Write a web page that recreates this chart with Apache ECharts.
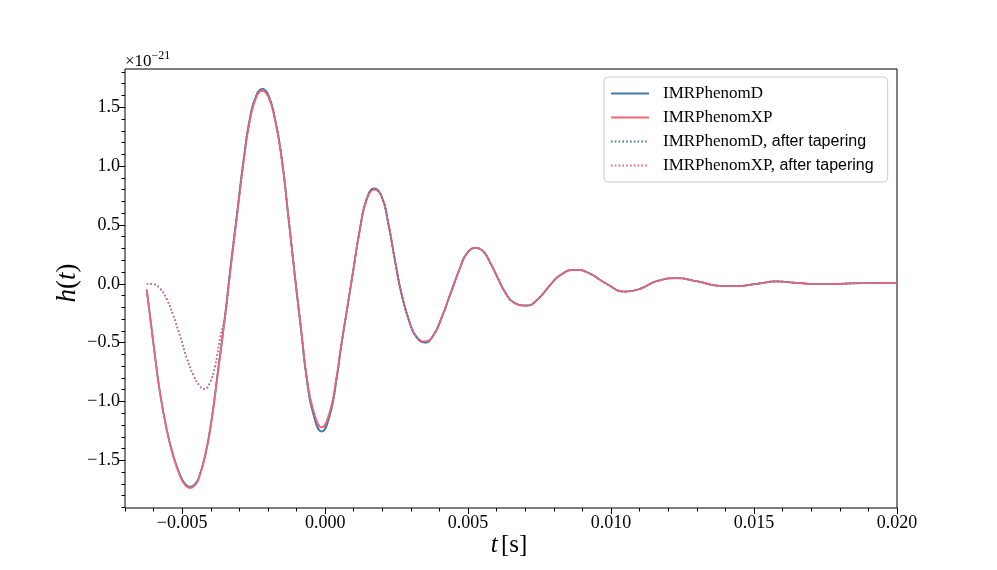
<!DOCTYPE html>
<html>
<head>
<meta charset="utf-8">
<script src="https://cdn.jsdelivr.net/npm/echarts@6/dist/echarts.min.js"></script>
<style>
html,body{margin:0;padding:0;background:#fff;}
#c{width:997px;height:570px;}
</style>
</head>
<body>
<div id="c"></div>
<script>
// time in seconds, strain in units of 1e-21
const tMain = [-0.00624,-0.00601,-0.00578,-0.00554,-0.00531,-0.00508,-0.00490,-0.00473,-0.00455,-0.00444,-0.00420,-0.00397,-0.00374,-0.00350,-0.00333,-0.00309,-0.00286,-0.00263,-0.00240,-0.00220,-0.00199,-0.00176,-0.00152,-0.00129,-0.00106,-0.00082,-0.00065,-0.00042,-0.00012,0.00017,0.00040,0.00055,0.00075,0.00098,0.00122,0.00145,0.00172,0.00198,0.00221,0.00244,0.00267,0.00297,0.00320,0.00349,0.00378,0.00407,0.00436,0.00471,0.00495,0.00526,0.00553,0.00582,0.00605,0.00629,0.00658,0.00705,0.00745,0.00786,0.00821,0.00873,0.00920,0.00984,0.01048,0.01101,0.01159,0.01229,0.01299,0.01380,0.01439,0.01509,0.01579,0.01649,0.01730,0.01800,0.01882,0.02000];
const hD = [-0.05,-0.50,-0.92,-1.24,-1.46,-1.62,-1.70,-1.725,-1.70,-1.66,-1.46,-1.15,-0.72,-0.27,0.10,0.58,1.04,1.41,1.605,1.656,1.605,1.41,1.07,0.58,0.07,-0.44,-0.80,-1.10,-1.255,-1.11,-0.81,-0.55,-0.24,0.11,0.47,0.72,0.81,0.74,0.51,0.20,-0.085,-0.34,-0.455,-0.50,-0.44,-0.29,-0.10,0.13,0.256,0.305,0.275,0.156,0.043,-0.07,-0.157,-0.185,-0.128,-0.014,0.071,0.119,0.094,0.0,-0.066,-0.043,0.022,0.048,0.022,-0.017,-0.02,0.0,0.02,0.008,-0.003,0.0,0.005,0.005];
const hXP = [-0.05,-0.50,-0.92,-1.24,-1.47,-1.63,-1.71,-1.735,-1.71,-1.67,-1.47,-1.16,-0.74,-0.28,0.08,0.56,1.02,1.39,1.59,1.64,1.59,1.40,1.06,0.58,0.07,-0.43,-0.78,-1.07,-1.22,-1.08,-0.79,-0.54,-0.24,0.11,0.47,0.71,0.80,0.74,0.51,0.20,-0.085,-0.34,-0.45,-0.49,-0.44,-0.29,-0.10,0.13,0.255,0.303,0.275,0.156,0.043,-0.07,-0.157,-0.185,-0.128,-0.014,0.071,0.119,0.094,0.0,-0.066,-0.043,0.022,0.048,0.022,-0.017,-0.02,0.0,0.02,0.008,-0.003,0.0,0.005,0.005];
// start of the tapered waveforms (after this they follow the untapered ones)
const tTaper = [-0.00624,-0.00601,-0.00578,-0.00554,-0.00531,-0.00508,-0.00484,-0.00460,-0.00438,-0.00423,-0.00403,-0.00385,-0.00368,-0.00350];
const hDTaper = [0.0,-0.003,-0.04,-0.13,-0.27,-0.44,-0.63,-0.78,-0.87,-0.895,-0.84,-0.70,-0.47,-0.27];
const hXPTaper = [0.0,-0.003,-0.04,-0.13,-0.27,-0.44,-0.63,-0.78,-0.87,-0.895,-0.84,-0.70,-0.47,-0.28];

const xTicks = [-0.005,0.000,0.005,0.010,0.015,0.020];
const yTicks = [-1.5,-1.0,-0.5,0.0,0.5,1.0,1.5];
const xMinor = []; for (let i=-7;i<=20;i++) xMinor.push(i/1000);
const yMinor = []; for (let i=-19;i<=18;i++) yMinor.push(i/10);

const names = ['IMRPhenomD','IMRPhenomXP','IMRPhenomD, after tapering','IMRPhenomXP, after tapering'];
const BLUE = '#4477AA', RED = '#EE6677';

function zip(t,h){ return t.map((v,i)=>[v,h[i]]); }
function tapered(hT, hM){
  const last = tTaper[tTaper.length-1];
  const out = zip(tTaper,hT);
  tMain.forEach((t,i)=>{ if (t>last) out.push([t,hM[i]]); });
  return out;
}
const minus = s => s.replace('-', '\u2212');

const SERIF = '"Liberation Serif", "DejaVu Serif", serif';
const SANS = '"Liberation Sans", "DejaVu Sans", sans-serif';

const chart = echarts.init(document.getElementById('c'), null, {renderer:'canvas'});
const xmin=-0.007, xmax=0.020, ymin=-1.905, ymax=1.825;
const axisCommon = {
  splitLine:{show:false},
  axisLine:{show:false,onZero:false}
};
chart.setOption({
  animation:false,
  backgroundColor:'#fff',
  grid:{left:125,right:100,top:69,bottom:62,show:true,borderColor:'#000',borderWidth:1,backgroundColor:'transparent'},
  xAxis:[
    Object.assign({type:'value',min:xmin,max:xmax,position:'bottom',
      axisTick:{show:true,inside:false,length:6,lineStyle:{color:'#000',width:1},customValues:xTicks},
      axisLabel:{show:true,margin:6,customValues:xTicks,fontFamily:SERIF,fontSize:18,color:'#000',
        formatter:v=>minus(v.toFixed(3))}},axisCommon),
    Object.assign({type:'value',min:xmin,max:xmax,position:'bottom',gridIndex:0,
      axisTick:{show:true,inside:false,length:3.5,lineStyle:{color:'#000',width:1},customValues:xMinor},
      axisLabel:{show:false}},axisCommon)
  ],
  yAxis:[
    Object.assign({type:'value',min:ymin,max:ymax,position:'left',
      axisTick:{show:true,inside:false,length:6,lineStyle:{color:'#000',width:1},customValues:yTicks},
      axisLabel:{show:true,margin:5,customValues:yTicks,fontFamily:SERIF,fontSize:18,color:'#000',
        formatter:v=>minus(v.toFixed(1))}},axisCommon),
    Object.assign({type:'value',min:ymin,max:ymax,position:'left',gridIndex:0,
      axisTick:{show:true,inside:false,length:3.5,lineStyle:{color:'#000',width:1},customValues:yMinor},
      axisLabel:{show:false}},axisCommon)
  ],
  legend:{
    orient:'vertical',left:604,top:77,padding:[8,14,8,6],
    itemWidth:38,itemHeight:14,itemGap:7,
    data:names,
    itemStyle:{opacity:0},
    backgroundColor:'rgba(255,255,255,0.8)',borderColor:'#cccccc',borderWidth:1,borderRadius:4,
    formatter:function(n){
      const k=n.indexOf(', ');
      if(k<0) return '{s|'+n+'}';
      return '{s|'+n.slice(0,k)+',}{t| '+n.slice(k+2)+'}';
    },
    textStyle:{rich:{
      s:{fontFamily:SERIF,fontSize:17,color:'#000',lineHeight:17,padding:[0,0,0,9]},
      t:{fontFamily:SANS,fontSize:16,color:'#000',lineHeight:17}
    }}
  },
  series:[
    {name:names[0],type:'line',data:zip(tMain,hD),smooth:true,symbol:'none',showSymbol:false,
      lineStyle:{color:BLUE,width:1.8},itemStyle:{color:BLUE},z:2},
    {name:names[1],type:'line',data:zip(tMain,hXP),smooth:true,symbol:'none',showSymbol:false,
      lineStyle:{color:RED,width:1.8},itemStyle:{color:RED},z:3},
    {name:names[2],type:'line',data:tapered(hDTaper,hD),smooth:true,symbol:'none',showSymbol:false,
      lineStyle:{color:BLUE,width:1.6,type:[1.6,2.2]},itemStyle:{color:BLUE},z:4},
    {name:names[3],type:'line',data:tapered(hXPTaper,hXP),smooth:true,symbol:'none',showSymbol:false,
      lineStyle:{color:RED,width:1.6,type:[1.6,2.2]},itemStyle:{color:RED},z:5}
  ],
  graphic:[
    {type:'text',left:125,top:50,style:{
      text:'{a|\u00d710}{b|\u221221}',
      rich:{a:{fontFamily:SERIF,fontSize:17,fill:'#000',verticalAlign:'bottom',lineHeight:20},
            b:{fontFamily:SERIF,fontSize:12,fill:'#000',verticalAlign:'top',lineHeight:20,padding:[0,0,8,0]}}}},
    {type:'text',x:509,y:545,style:{
      text:'{i|t} {r|[s]}',align:'center',verticalAlign:'middle',
      rich:{i:{fontFamily:SERIF,fontStyle:'italic',fontSize:25,fill:'#000'},
            r:{fontFamily:SERIF,fontSize:25,fill:'#000'}}}},
    {type:'text',x:68,y:283,rotation:Math.PI/2,style:{
      text:'{i|h}{r|(}{i|t}{r|)}',align:'center',verticalAlign:'middle',
      rich:{i:{fontFamily:SERIF,fontStyle:'italic',fontSize:27,fill:'#000'},
            r:{fontFamily:SERIF,fontSize:27,fill:'#000'}}}}
  ]
});
</script>
</body>
</html>
